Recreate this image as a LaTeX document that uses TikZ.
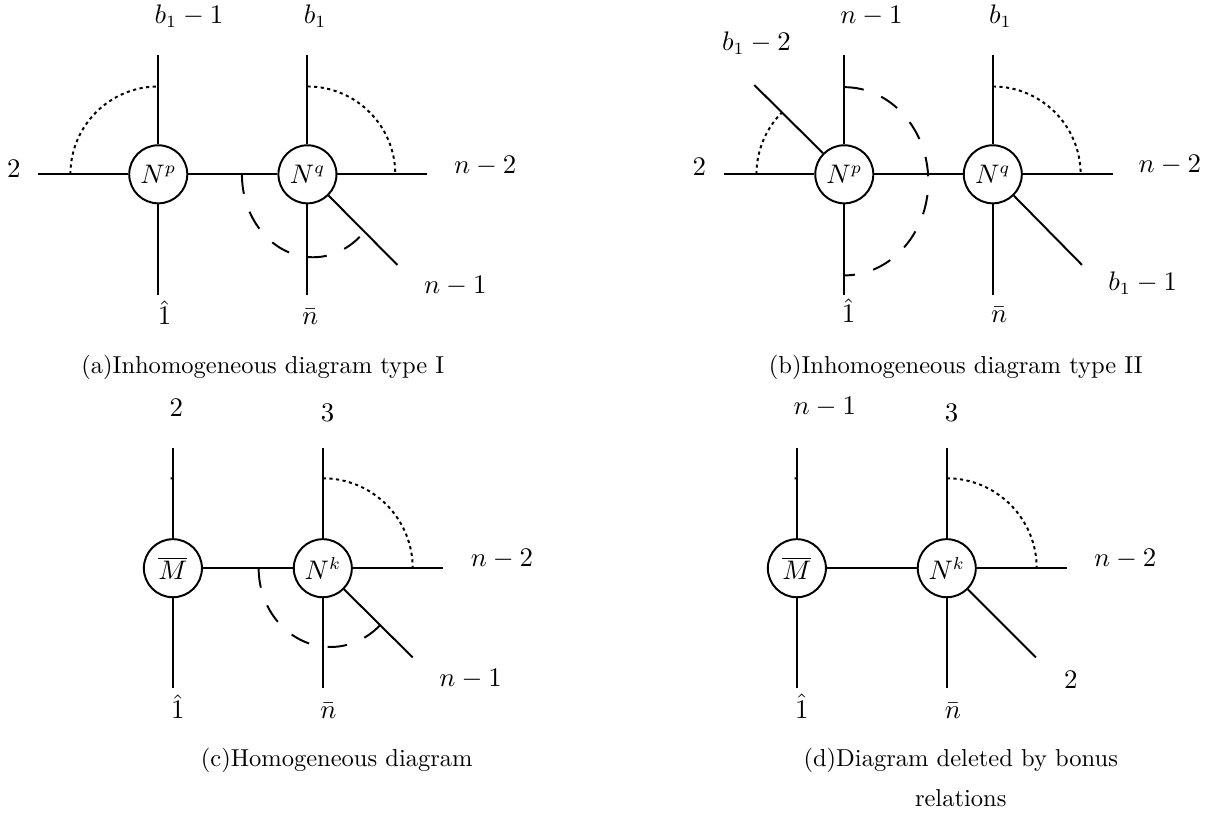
\documentclass[tikz,border=0pt]{standalone}
\usetikzlibrary{shapes}
\newcommand{\legfont}{\fontsize{10.5pt}{12.6pt}\selectfont}
\tikzset{
  vertex/.style={circle, draw, thick, minimum size=23.7pt, inner sep=0pt, font=\legfont},
  leg/.style={thick},
  dotarc/.style={thick, dash pattern=on 1.3pt off 1.4pt},
  dasharc/.style={thick, dash pattern=on 8pt off 7.7pt},
  lbl/.style={anchor=base, inner sep=0.5pt, font=\legfont},
  subcap/.style={anchor=base, inner sep=0.5pt, align=center}
}
\begin{document}
\begin{tikzpicture}
  \useasboundingbox (0,0) rectangle (17.37,-11.735);

  % (a) the two blobs
  \node[vertex] (aNp) at (2.27,-2.50) {$N^p$};
  \node[vertex] (aNq) at (4.41,-2.50) {$N^q$};

  % (a) free ends of the legs
  \coordinate (a2) at (0.55,-2.50);
  \coordinate (ab1m1) at (2.27,-0.79);
  \coordinate (a1) at (2.27,-4.23);
  \coordinate (ab1) at (4.41,-0.79);
  \coordinate (anm2) at (6.13,-2.50);
  \coordinate (anbar) at (4.41,-4.23);
  \coordinate (anm1) at (5.70,-3.80);

  % (a) draw the legs
  \draw[leg] (a2) -- (aNp);
  \draw[leg] (ab1m1) -- (aNp);
  \draw[leg] (a1) -- (aNp);
  \draw[leg] (aNp) -- (aNq);
  \draw[leg] (ab1) -- (aNq);
  \draw[leg] (anm2) -- (aNq);
  \draw[leg] (anbar) -- (aNq);
  \draw[leg] (anm1) -- (aNq);

  % (a) the arcs
  \draw[dotarc] (aNp) ++(-1.26,0) arc[start angle=180, end angle=90, radius=1.26];
  \draw[dotarc] (aNq) ++(0,1.26) arc[start angle=90, end angle=0, radius=1.26];
  \draw[dasharc] (aNq) ++(-0.94,0) arc[start angle=180, end angle=315, x radius=1.02, y radius=1.19];

  % (a) labels
  \node[lbl] (la2) at (0.20,-2.54) {$2$};
  \node[lbl] (lab1m1) at (2.71,-0.33) {$b_1-1$};
  \node[lbl] (lab1) at (4.52,-0.33) {$b_1$};
  \node[lbl] (lanm2) at (6.96,-2.49) {$n-2$};
  \node[lbl] (lanm1) at (6.53,-4.21) {$n-1$};
  \node[lbl] (la1) at (2.36,-4.66) {$\hat{1}$};
  \node[lbl] (lanbar) at (4.45,-4.65) {$\bar{n}$};
  \node[subcap] (capa) at (3.77,-5.35) {(a)Inhomogeneous diagram type I};

  % (b) the two blobs
  \node[vertex] (bNp) at (12.11,-2.50) {$N^p$};
  \node[vertex] (bNq) at (14.24,-2.50) {$N^q$};

  % (b) free ends of the legs
  \coordinate (b2) at (10.39,-2.50);
  \coordinate (bb1m2) at (10.82,-1.22);
  \coordinate (bnm1) at (12.11,-0.79);
  \coordinate (b1) at (12.11,-4.23);
  \coordinate (bb1) at (14.24,-0.79);
  \coordinate (bnm2) at (15.96,-2.50);
  \coordinate (bnbar) at (14.24,-4.23);
  \coordinate (bb1m1) at (15.52,-3.80);

  % (b) draw the legs
  \draw[leg] (b2) -- (bNp);
  \draw[leg] (bb1m2) -- (bNp);
  \draw[leg] (bnm1) -- (bNp);
  \draw[leg] (b1) -- (bNp);
  \draw[leg] (bNp) -- (bNq);
  \draw[leg] (bb1) -- (bNq);
  \draw[leg] (bnm2) -- (bNq);
  \draw[leg] (bnbar) -- (bNq);
  \draw[leg] (bb1m1) -- (bNq);

  % (b) the arcs
  \draw[dotarc] (bNp) ++(-1.26,0) arc[start angle=180, end angle=135, radius=1.26];
  \draw[dotarc] (bNq) ++(0,1.26) arc[start angle=90, end angle=0, radius=1.26];
  \draw[dasharc] (bNp) ++(0,1.25) arc[start angle=90, end angle=-90, x radius=1.205, y radius=1.35];

  % (b) labels
  \node[lbl] (lb2) at (10.03,-2.51) {$2$};
  \node[lbl] (lbb1m2) at (10.85,-0.72) {$b_1-2$};
  \node[lbl] (lbnm1) at (12.50,-0.33) {$n-1$};
  \node[lbl] (lbb1) at (14.35,-0.33) {$b_1$};
  \node[lbl] (lbnm2) at (16.78,-2.48) {$n-2$};
  \node[lbl] (lbb1m1) at (16.39,-4.16) {$b_1-1$};
  \node[lbl] (lb1) at (12.17,-4.63) {$\hat{1}$};
  \node[lbl] (lbnbar) at (14.33,-4.63) {$\bar{n}$};
  \node[subcap] (capb) at (13.71,-5.35) {(b)Inhomogeneous diagram type II};

  % (c) the two blobs
  \node[vertex] (cM) at (2.48,-8.15) {$\overline{M}$};
  \node[vertex] (cNk) at (4.63,-8.15) {$N^k$};

  % (c) free ends of the legs
  \coordinate (c2) at (2.48,-6.43);
  \coordinate (c1) at (2.48,-9.87);
  \coordinate (c3) at (4.63,-6.43);
  \coordinate (cnm2) at (6.35,-8.15);
  \coordinate (cnbar) at (4.63,-9.87);
  \coordinate (cnm1) at (5.92,-9.43);

  % (c) draw the legs
  \draw[leg] (c2) -- (cM);
  \draw[leg] (c1) -- (cM);
  \draw[leg] (cM) -- (cNk);
  \draw[leg] (c3) -- (cNk);
  \draw[leg] (cnm2) -- (cNk);
  \draw[leg] (cnbar) -- (cNk);
  \draw[leg] (cnm1) -- (cNk);

  % (c) the arcs
  \draw[dotarc] (cM) ++(0,1.29) arc[start angle=90, end angle=91.5, radius=1.29];
  \draw[dotarc] (cNk) ++(0,1.29) arc[start angle=90, end angle=0, radius=1.29];
  \draw[dasharc] (cNk) ++(-0.92,0) arc[start angle=180, end angle=313, x radius=1.03, y radius=1.13];

  % (c) labels
  \node[lbl] (lc2) at (2.53,-5.98) {$2$};
  \node[lbl] (lc3) at (4.70,-6.05) {$3$};
  \node[lbl] (lcnm2) at (7.20,-8.13) {$n-2$};
  \node[lbl] (lcnm1) at (6.75,-9.85) {$n-1$};
  \node[lbl] (lc1) at (2.55,-10.31) {$\hat{1}$};
  \node[lbl] (lcnbar) at (4.71,-10.31) {$\bar{n}$};
  \node[subcap] (capc) at (4.83,-11.00) {(c)Homogeneous diagram};

  % (d) the two blobs
  \node[vertex] (dM) at (11.43,-8.15) {$\overline{M}$};
  \node[vertex] (dNk) at (13.58,-8.15) {$N^k$};

  % (d) free ends of the legs
  \coordinate (dnm1) at (11.43,-6.43);
  \coordinate (d1) at (11.43,-9.87);
  \coordinate (d3) at (13.58,-6.43);
  \coordinate (dnm2) at (15.30,-8.15);
  \coordinate (dnbar) at (13.58,-9.87);
  \coordinate (d2) at (14.86,-9.43);

  % (d) draw the legs
  \draw[leg] (dnm1) -- (dM);
  \draw[leg] (d1) -- (dM);
  \draw[leg] (dM) -- (dNk);
  \draw[leg] (d3) -- (dNk);
  \draw[leg] (dnm2) -- (dNk);
  \draw[leg] (dnbar) -- (dNk);
  \draw[leg] (d2) -- (dNk);

  % (d) the arcs
  \draw[dotarc] (dM) ++(0,1.29) arc[start angle=90, end angle=91.5, radius=1.29];
  \draw[dotarc] (dNk) ++(0,1.29) arc[start angle=90, end angle=0, radius=1.29];

  % (d) labels
  \node[lbl] (ldnm1) at (11.83,-5.95) {$n-1$};
  \node[lbl] (ld3) at (13.65,-6.05) {$3$};
  \node[lbl] (ldnm2) at (16.14,-8.13) {$n-2$};
  \node[lbl] (ld2) at (15.36,-9.87) {$2$};
  \node[lbl] (ld1) at (11.50,-10.30) {$\hat{1}$};
  \node[lbl] (ldnbar) at (13.67,-10.30) {$\bar{n}$};
  \node[subcap] (capd) at (13.78,-11.57) {(d)Diagram deleted by bonus\\[4.3pt] relations};
\end{tikzpicture}
\end{document}
